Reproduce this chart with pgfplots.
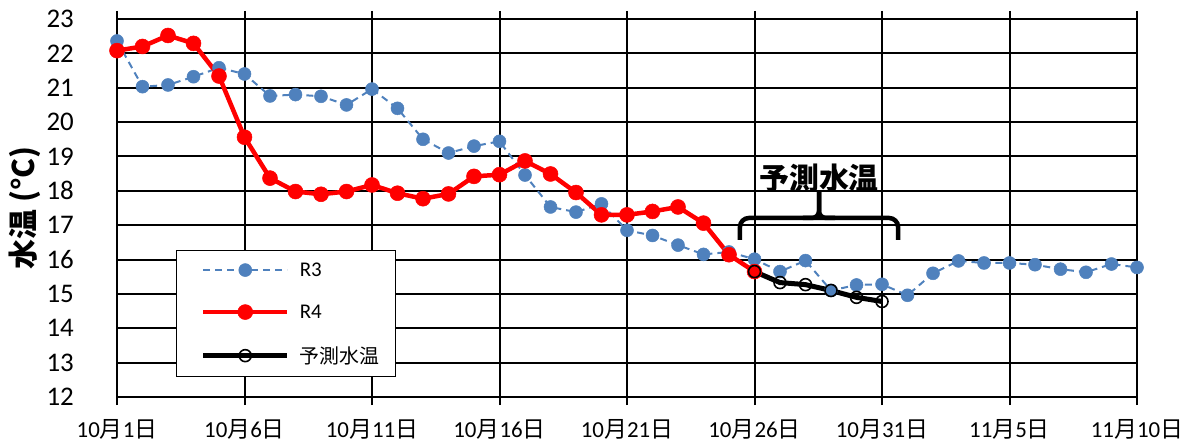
\documentclass[border=0pt]{standalone}
\usepackage{fontspec}
\setmainfont{Carlito}
\newfontfamily\cjk{Noto Sans CJK JP}
\usepackage{pgfplots}
\pgfplotsset{compat=1.18}
\newcommand\md[2]{#1{\cjk 月}#2{\cjk 日}}
\definecolor{rthree}{RGB}{79,129,189}
\begin{document}
\begin{tikzpicture}
\begin{axis}[
  name=ax,
  scale only axis,
  width=1020bp, height=378bp,
  xmin=0, xmax=40, ymin=12, ymax=23,
  xtick={0,5,...,40},
  xticklabels={\md{10}{1},\md{10}{6},\md{10}{11},\md{10}{16},\md{10}{21},\md{10}{26},\md{10}{31},\md{11}{5},\md{11}{10}},
  ytick={12,13,...,23},
  /pgf/number format/assume math mode=true,
  grid=major,
  major grid style={black, line width=2bp},
  axis line style={black, line width=2bp},
  x tick style={black, line width=2bp},
  tick align=outside,
  major tick length=8bp,
  ytick style={draw=none},
  xticklabel style={font=\fontsize{23}{26}\selectfont, inner sep=0pt, yshift=-14bp},
  yticklabel style={font=\fontsize{27}{30}\selectfont, inner sep=0pt, xshift=-35bp},
  ylabel={水温 (°C)},
  ylabel style={font=\cjk\bfseries\fontsize{30}{34}\selectfont, at={(axis description cs:-0.09,0.5)}, anchor=center},
  legend style={at={(axis description cs:0.058,0.389)}, anchor=north west, draw=black, line width=1.2bp,
     font=\fontsize{21}{24}\selectfont, row sep=23bp, inner xsep=14bp, inner ysep=10bp, cells={anchor=west}},
  legend image code/.code={\path (-10bp,0bp) (92bp,0bp); \draw[mark repeat=2,mark phase=2,#1] plot coordinates {(0bp,0bp) (42bp,0bp) (84bp,0bp)};},
]
\addplot[color=rthree, dash pattern=on 7bp off 5bp, line width=2bp, mark=*, mark size=6.5bp, mark options={solid, line width=0.5bp, fill=rthree, draw=rthree}] coordinates {
(0,22.36) (1,21.03) (2,21.08) (3,21.32) (4,21.58) (5,21.4) (6,20.76) (7,20.8) (8,20.75) (9,20.5)
(10,20.96) (11,20.4) (12,19.5) (13,19.1) (14,19.3) (15,19.44) (16,18.46) (17,17.53) (18,17.38) (19,17.62)
(20,16.85) (21,16.7) (22,16.42) (23,16.15) (24,16.22) (25,16.01) (26,15.65) (27,15.97) (28,15.1) (29,15.26)
(30,15.28) (31,14.96) (32,15.6) (33,15.96) (34,15.9) (35,15.9) (36,15.85) (37,15.72) (38,15.63) (39,15.87) (40,15.77)};
\addlegendentry{R3}
\addplot[color=red, line width=4.5bp, mark=*, mark size=7.5bp, mark options={solid, line width=0.5bp, fill=red, draw=red}] coordinates {
(0,22.08) (1,22.2) (2,22.52) (3,22.29) (4,21.34) (5,19.56) (6,18.37) (7,17.98) (8,17.9) (9,17.98)
(10,18.17) (11,17.93) (12,17.77) (13,17.91) (14,18.42) (15,18.47) (16,18.87) (17,18.49) (18,17.95) (19,17.3)
(20,17.3) (21,17.4) (22,17.53) (23,17.06) (24,16.14) (25,15.65)};
\addlegendentry{R4}
\addplot[color=black, line width=5bp, mark=o, mark size=6bp, mark options={solid, line width=1.6bp, fill=none, draw=black}] coordinates {
(25,15.65) (26,15.33) (27,15.27) (28,15.1) (29,14.9) (30,14.78)};
\addlegendentry{{\cjk\fontsize{20}{24}\selectfont 予測水温}}
\draw[line width=4.5bp, rounded corners=9bp] (axis cs:24.43,16.57) -- (axis cs:24.43,17.21) -- (axis cs:30.63,17.21) -- (axis cs:30.63,16.57);
\draw[line width=4.5bp, rounded corners=7bp] (axis cs:26.9,17.21) -- (axis cs:27.53,17.21) -- (axis cs:27.53,18.02);
\draw[line width=4.5bp, rounded corners=7bp] (axis cs:28.16,17.21) -- (axis cs:27.53,17.21) -- (axis cs:27.53,18.02);
\node[font=\cjk\bfseries\fontsize{30}{36}\selectfont] at (axis cs:27.53,18.37) {予測水温};
\end{axis}
\pgfresetboundingbox
\path[use as bounding box] ([shift={(-117bp,-45bp)}]ax.south west) rectangle ([shift={(54bp,19bp)}]ax.north east);
\end{tikzpicture}
\end{document}
